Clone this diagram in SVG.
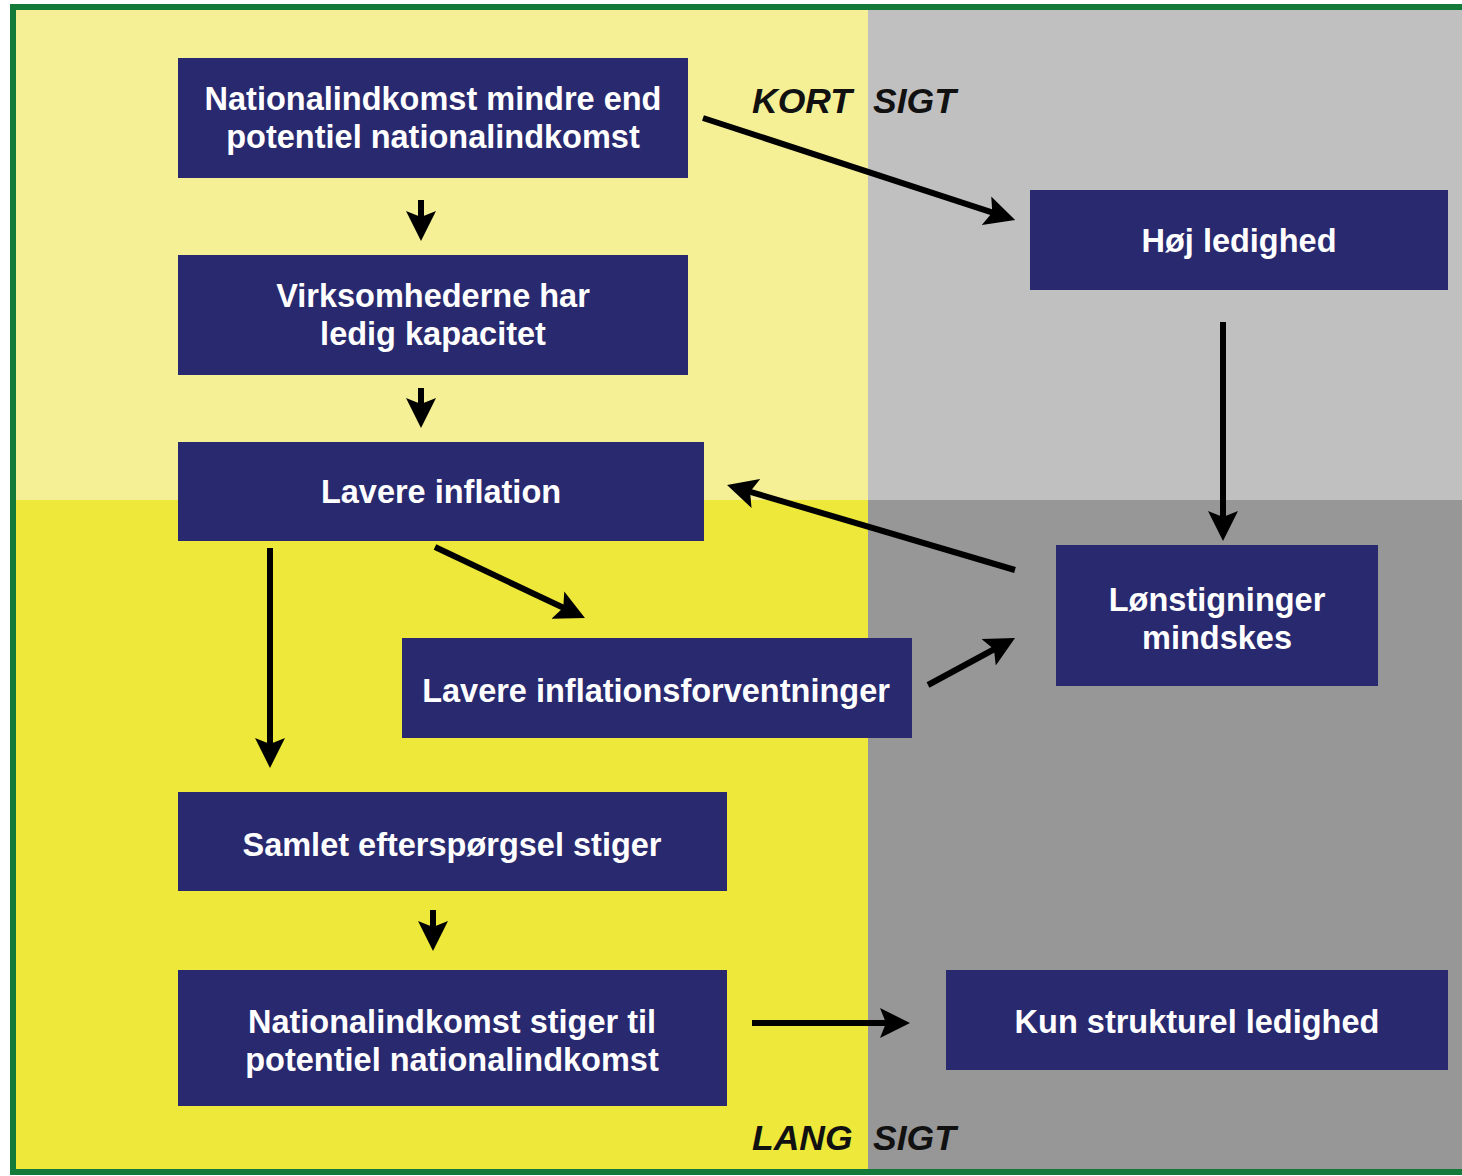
<svg xmlns="http://www.w3.org/2000/svg" width="1462" height="1176" viewBox="0 0 1462 1176">
<style>
.node rect{fill:#29296f}
.node text{fill:#fff;font-family:"Liberation Sans",Arial,sans-serif;font-weight:bold;font-size:32.5px;text-anchor:middle}
.conn line{stroke:#000;stroke-width:6;marker-end:url(#ah)}
.lbl{font-family:"Liberation Sans",Arial,sans-serif;font-weight:bold;font-style:italic;font-size:35.5px;fill:#111}
</style>
<defs>
<marker id="ah" markerUnits="userSpaceOnUse" markerWidth="32" markerHeight="32" viewBox="0 0 32 32" refX="12" refY="16" orient="auto">
<path d="M0,1 L30,16 L0,31 L6,16 Z" fill="#000"/>
</marker>
</defs>
<rect x="0" y="0" width="1462" height="1176" fill="#fff"/>
<rect x="13" y="7" width="855" height="493" fill="#f5f096"/>
<rect x="868" y="7" width="594" height="493" fill="#c0c0c0"/>
<rect x="13" y="500" width="855" height="672" fill="#eee83a"/>
<rect x="868" y="500" width="594" height="672" fill="#979797"/>
<path d="M1462,7 H13 V1172 H1462" fill="none" stroke="#137a3a" stroke-width="6"/>
<text class="lbl" x="752" y="113">KORT</text>
<text class="lbl" x="873" y="113">SIGT</text>
<text class="lbl" x="752" y="1150">LANG</text>
<text class="lbl" x="873" y="1150">SIGT</text>
<g class="conn">
<line x1="421" y1="200" x2="421" y2="223"/>
<line x1="421" y1="388" x2="421" y2="410"/>
<line x1="703" y1="118" x2="998" y2="214.4"/>
<line x1="1223" y1="322" x2="1223" y2="523"/>
<line x1="1015" y1="570" x2="744.3" y2="490.1"/>
<line x1="435" y1="547" x2="568.7" y2="610.3"/>
<line x1="928" y1="685" x2="999.2" y2="646.5"/>
<line x1="270" y1="548" x2="270" y2="750"/>
<line x1="433" y1="910" x2="433" y2="933"/>
<line x1="752" y1="1023" x2="892" y2="1023"/>
</g>
<g id="n1" class="node"><rect x="178" y="58" width="510" height="120"/><text x="433" y="110">Nationalindkomst mindre end</text><text x="433" y="148">potentiel nationalindkomst</text></g>
<g id="n2" class="node"><rect x="178" y="255" width="510" height="120"/><text x="433" y="307">Virksomhederne har</text><text x="433" y="345">ledig kapacitet</text></g>
<g id="n3" class="node"><rect x="178" y="442" width="526" height="99"/><text x="441" y="503">Lavere inflation</text></g>
<g id="n4" class="node"><rect x="1030" y="190" width="418" height="100"/><text x="1239" y="252">Høj ledighed</text></g>
<g id="n5" class="node"><rect x="1056" y="545" width="322" height="141"/><text x="1217" y="611">Lønstigninger</text><text x="1217" y="649">mindskes</text></g>
<g id="n6" class="node"><rect x="402" y="638" width="510" height="100"/><text x="656" y="702">Lavere inflationsforventninger</text></g>
<g id="n7" class="node"><rect x="178" y="792" width="549" height="99"/><text x="452" y="856">Samlet efterspørgsel stiger</text></g>
<g id="n8" class="node"><rect x="178" y="970" width="549" height="136"/><text x="452" y="1033">Nationalindkomst stiger til</text><text x="452" y="1071">potentiel nationalindkomst</text></g>
<g id="n9" class="node"><rect x="946" y="970" width="502" height="100"/><text x="1197" y="1033">Kun strukturel ledighed</text></g>
</svg>
